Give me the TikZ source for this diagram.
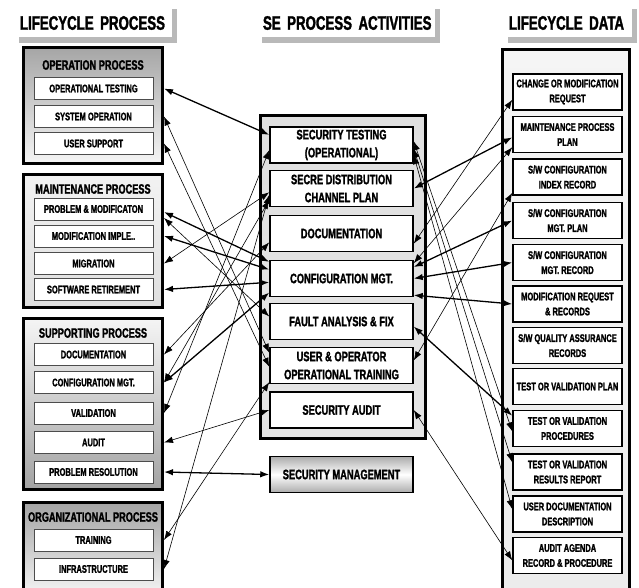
\documentclass[tikz,border=0pt]{standalone}
\usepackage{fontspec}
\newfontfamily\condfont{Liberation Sans}[FakeStretch=0.68, BoldFeatures={FakeBold=1.6}]
\usetikzlibrary{arrows.meta,backgrounds,calc}

\tikzset{every picture/.style={line width=0.75pt}}
\tikzset{
headbox/.style={fill=white, inner xsep=1pt, inner ysep=0pt, minimum height=28, align=left, font=\condfont\bfseries\fontsize{19.5}{19.5}\selectfont},
grpbox/.style={draw=black, line width=3pt},
grptitle/.style={inner sep=0pt, font=\condfont\bfseries\fontsize{13.5}{13.5}\selectfont},
litem/.style={draw=gray!60!black, line width=1pt, fill=white, minimum width=119, minimum height=22, inner sep=0pt, font=\condfont\bfseries\fontsize{11}{11}\selectfont},
mitem/.style={draw=black, line width=1.5pt, fill=white, minimum width=143, minimum height=36, inner sep=0pt, align=center, font=\condfont\bfseries\fontsize{13.7}{18}\selectfont},
ritem/.style={draw=black, line width=1.5pt, fill=white, minimum width=109, minimum height=36, inner sep=0pt, align=center, font=\condfont\bfseries\fontsize{11}{15}\selectfont},
lnk/.style={{Latex[length=9pt,width=6.5pt]}-{Latex[length=9pt,width=6.5pt]}, line width=0.6pt},
lnkb/.style={lnk, line width=1.3pt}
}

\begin{document}
\begin{tikzpicture}[x=1pt,y=1pt,yscale=-1]
\useasboundingbox (0,0) rectangle (639,587);

% Headers
\node[headbox, text width=151] (hlp) at (95.5,23) {\mbox{LIFECYCLE PROCESS}};
\node[headbox, text width=171] (hse) at (348.5,23) {\mbox{SE PROCESS ACTIVITIES}};
\node[headbox, text width=122] (hld) at (570,23) {\mbox{LIFECYCLE DATA}};
\begin{scope}[on background layer]
\fill[gray!55] (hlp.north west) rectangle ([xshift=5pt,yshift=6pt]hlp.south east);
\fill[gray!55] (hse.north west) rectangle ([xshift=5pt,yshift=6pt]hse.south east);
\fill[gray!55] (hld.north west) rectangle ([xshift=5pt,yshift=6pt]hld.south east);
\end{scope}

%Shape: lifecycle process groups
\node[grpbox, minimum width=139, minimum height=116, top color=gray!70, bottom color=gray!8] (opg) at (93,105.5) {};
\node[grpbox, minimum width=139, minimum height=133, top color=gray!10, middle color=gray!65, bottom color=gray!25] (mpg) at (93,240.5) {};
\node[grpbox, minimum width=139, minimum height=171, top color=gray!8, bottom color=gray!72] (spg) at (93,403.5) {};
\node[grpbox, minimum width=139, minimum height=90, top color=gray!72, bottom color=gray!10] (org) at (93,547) {};

%Shape: SE activities and lifecycle data groups
\node[grpbox, minimum width=165, minimum height=323, top color=gray!25, middle color=gray!60, bottom color=gray!20] (seg) at (342.5,276.5) {};
\node[grpbox, minimum width=127, minimum height=540, top color=gray!8, middle color=gray!55, bottom color=gray!15] (ldg) at (566,319.5) {};

% Text Node
\node[grptitle] (opt) at (93,65) {OPERATION PROCESS};
\node[grptitle] (mpt) at (93,189) {MAINTENANCE PROCESS};
\node[grptitle] (spt) at (93,333) {SUPPORTING PROCESS};
\node[grptitle] (ort) at (93,517) {ORGANIZATIONAL PROCESS};

% Lifecycle process items
\node[litem] (ot) at (93.5,88.5) {OPERATIONAL TESTING};
\node[litem] (so) at (93.5,116.5) {SYSTEM OPERATION};
\node[litem] (us) at (93.5,143.5) {USER SUPPORT};
\node[litem] (pm) at (93.5,209) {PROBLEM \& MODIFICATON};
\node[litem] (mi) at (93.5,236) {MODIFICATION IMPLE..};
\node[litem] (mig) at (93.5,263.5) {MIGRATION};
\node[litem] (swr) at (93.5,289.5) {SOFTWARE RETIREMENT};
\node[litem] (sdoc) at (93.5,354.5) {DOCUMENTATION};
\node[litem] (scm) at (93.5,382.5) {CONFIGURATION MGT.};
\node[litem] (val) at (93.5,413) {VALIDATION};
\node[litem] (aud) at (93.5,442.5) {AUDIT};
\node[litem] (pr) at (93.5,472) {PROBLEM RESOLUTION};
\node[litem] (tr) at (93.5,540) {TRAINING};
\node[litem] (inf) at (93.5,569) {INFRASTRUCTURE};

% SE process activities
\node[mitem] (st) at (341.5,145) {SECURITY TESTING\\(OPERATIONAL)};
\node[mitem] (sd) at (341.5,188.5) {SECRE DISTRIBUTION\\CHANNEL PLAN};
\node[mitem] (doc) at (341.5,233.5) {DOCUMENTATION};
\node[mitem] (cm) at (341.5,278.5) {CONFIGURATION MGT.};
\node[mitem] (fa) at (341.5,321.5) {FAULT ANALYSIS \& FIX};
\node[mitem] (uot) at (341.5,365.5) {USER \& OPERATOR\\OPERATIONAL TRAINING};
\node[mitem] (sa) at (341.5,410) {SECURITY AUDIT};
\node[mitem, top color=gray!65, bottom color=gray!65, middle color=white] (sm) at (341.5,474.5) {SECURITY MANAGEMENT};

% Lifecycle data
\node[ritem] (cr) at (567.5,92) {CHANGE OR MODIFICATION\\REQUEST};
\node[ritem] (mp) at (567.5,134.5) {MAINTENANCE PROCESS\\PLAN};
\node[ritem] (swci) at (567.5,177) {S/W CONFIGURATION\\INDEX RECORD};
\node[ritem] (cmp) at (567.5,220.5) {S/W CONFIGURATION\\MGT. PLAN};
\node[ritem] (cmr) at (567.5,262.5) {S/W CONFIGURATION\\MGT. RECORD};
\node[ritem] (mr) at (567.5,304) {MODIFICATION REQUEST\\\& RECORDS};
\node[ritem] (qa) at (567.5,345.5) {S/W QUALITY ASSURANCE\\RECORDS};
\node[ritem] (tpl) at (567.5,386.5) {TEST OR VALIDATION PLAN};
\node[ritem] (tpc) at (567.5,428.5) {TEST OR VALIDATION\\PROCEDURES};
\node[ritem] (trr) at (567.5,472) {TEST OR VALIDATION\\RESULTS REPORT};
\node[ritem] (udd) at (567.5,514) {USER DOCUMENTATION\\DESCRIPTION};
\node[ritem] (aa) at (567.5,555.5) {AUDIT AGENDA\\RECORD \& PROCEDURE};

%Straight Lines: process to activities
\draw[lnkb] (ot.east -| opg.east) -- (st.172);
\draw[lnk] (so.east -| opg.east) -- (uot.170);
\draw[lnk] (us.east -| opg.east) -- (uot.181);
\draw[lnkb] ($(pm.east -| mpg.east)+(0,3)$) -- (cm.167);
\draw[lnk] ($(pm.east -| mpg.east)+(0,9)$) -- (fa.176);
\draw[lnkb] (mi.east -| mpg.east) -- (cm.173);
\draw[lnk] (mig.east -| mpg.east) -- (sd.183);
\draw[lnkb] (swr.east -| mpg.east) -- (cm.183);
\draw[lnk] (sdoc.east -| spg.east) -- (doc.187);
\draw[lnk] (scm.east -| spg.east) -- (sd.189);
\draw[lnkb] (scm.east -| spg.east) -- (cm.191);
\draw[lnk] (val.east -| spg.east) -- (st.184);
\draw[lnk] (aud.east -| spg.east) -- (sa.west);
\draw[lnkb] (pr.east -| spg.east) -- (sm.west);
\draw[lnk] (tr.east -| org.east) -- (uot.193);
\draw[lnk] (inf.east -| org.east) -- (sd.185);

%Straight Lines: activities to data
\draw[lnkb] (sd.east) -- (mp.183);
\draw[lnk] (cm.12) -- (mp.193);
\draw[lnk] (doc.352) -- (cr.188);
\draw[lnk] (uot.4) -- (swci.196);
\draw[lnkb] (cm.9) -- (cmp.west);
\draw[lnkb] (cm.east) -- (cmr.west);
\draw[lnkb] (cm.347) -- (mr.west);
\draw[lnkb] (fa.356) -- (tpc.167);
\draw[lnk] (sa.east) -- (aa.185);
\draw[lnk] (st.3) -- (tpc.183);
\draw[lnk] (st.357) -- (trr.170);
\draw[lnk] (st.352) -- (udd.175);

\end{tikzpicture}
\end{document}
